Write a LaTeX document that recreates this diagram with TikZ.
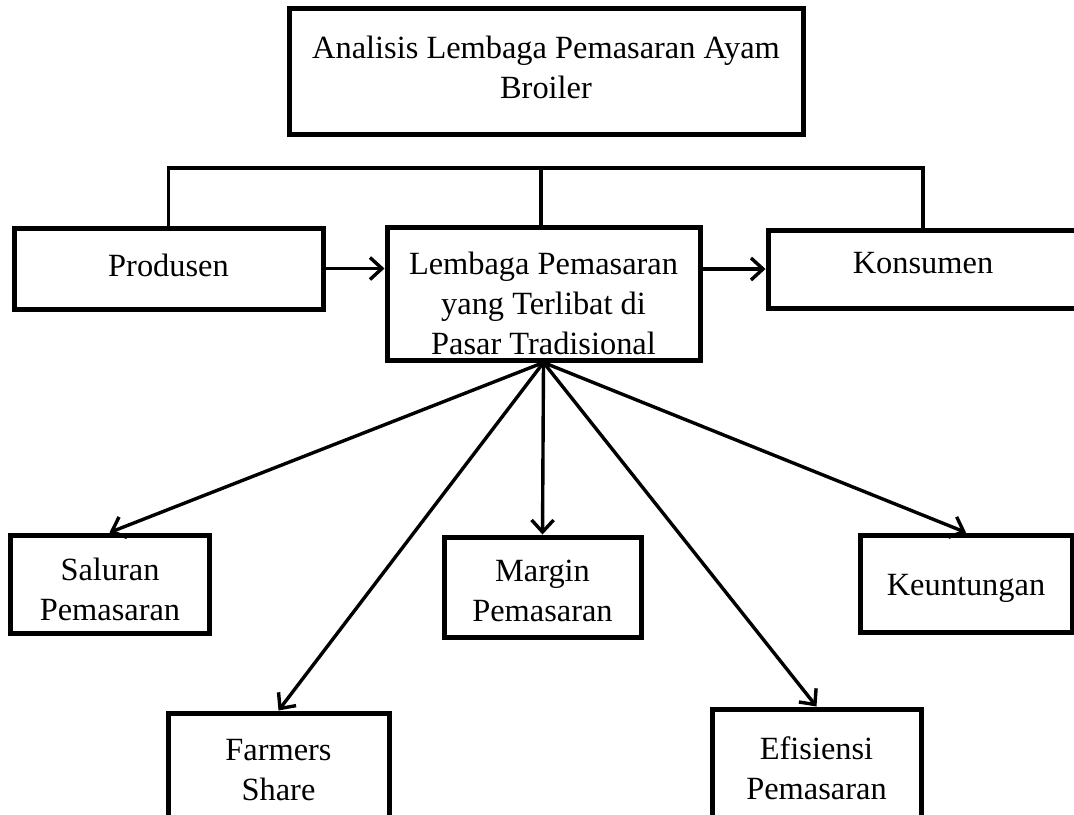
\documentclass[tikz,border=0pt]{standalone}
\usepackage{fontspec}
\setmainfont{Liberation Serif}
\usetikzlibrary{arrows.meta}
\begin{document}
\begin{tikzpicture}[x=0.5pt,y=-0.5pt,
  box/.style={draw,line width=2.5pt,rectangle,inner sep=0pt},
  lbl/.style={align=center,font=\fontsize{16.2}{20}\selectfont,inner sep=0pt},
  arr/.style={line width=1.7pt,-{Straight Barb[length=6pt,width=11pt,line width=1.7pt]}},
  ln/.style={line width=1.7pt}]
\useasboundingbox (0,0) rectangle (1074,814);
\clip (0,0) rectangle (1074,814);
\fill[white] (0,0) rectangle (1074,814);
% boxes
\node[box,minimum width=257pt,minimum height=63pt] (title) at (546,71) {};
\node[box,minimum width=154.5pt,minimum height=40.5pt] (prod) at (168.5,268.5) {};
\node[box,minimum width=156.5pt,minimum height=66.5pt] (cen) at (543.5,293.5) {};
\node[box,minimum width=155pt,minimum height=39pt] (kon) at (923,269) {};
\node[box,minimum width=99.5pt,minimum height=49pt] (sal) at (109.5,584) {};
\node[box,minimum width=98.5pt,minimum height=50pt] (mar) at (542.5,587) {};
\node[box,minimum width=106pt,minimum height=48.5pt] (keu) at (966,583.5) {};
\node[box,minimum width=110.5pt,minimum height=61pt] (far) at (278.5,774) {};
\node[box,minimum width=104.5pt,minimum height=63pt] (efi) at (816.5,772) {};
% labels
\node[lbl] (ttitle) at (546,67) {Analisis Lembaga Pemasaran Ayam\\Broiler};
\node[lbl] (tprod) at (168.5,265) {Produsen};
\node[lbl] (tcen) at (543.5,303) {Lembaga Pemasaran\\yang Terlibat di\\Pasar Tradisional};
\node[lbl] (tkon) at (923,263) {Konsumen};
\node[lbl] (tsal) at (110,589) {Saluran\\Pemasaran};
\node[lbl] (tmar) at (542.5,591) {Margin\\Pemasaran};
\node[lbl] (tkeu) at (966,588) {Keuntungan};
\node[lbl] (tfar) at (278.5,770) {Farmers\\Share};
\node[lbl] (tefi) at (816.5,768) {Efisiensi\\Pemasaran};
% top connector
\coordinate (bus) at (541,168);
\draw[ln] (prod.north) |- (bus) -| (kon.north);
\draw[ln] (bus) -- (bus |- cen.north);
% horizontal arrows
\draw[arr] (prod.east) -- (prod.east -| cen.west);
\draw[arr] (cen.east |- kon.west) -- (kon.west);
% fan
\draw[arr] (cen.south) -- (sal.north);
\draw[arr] (cen.south) -- (far.north);
\draw[arr] (cen.south) -- (mar.north);
\draw[arr] (cen.south) -- (efi.north);
\draw[arr] (cen.south) -- (keu.north);
\end{tikzpicture}
\end{document}
